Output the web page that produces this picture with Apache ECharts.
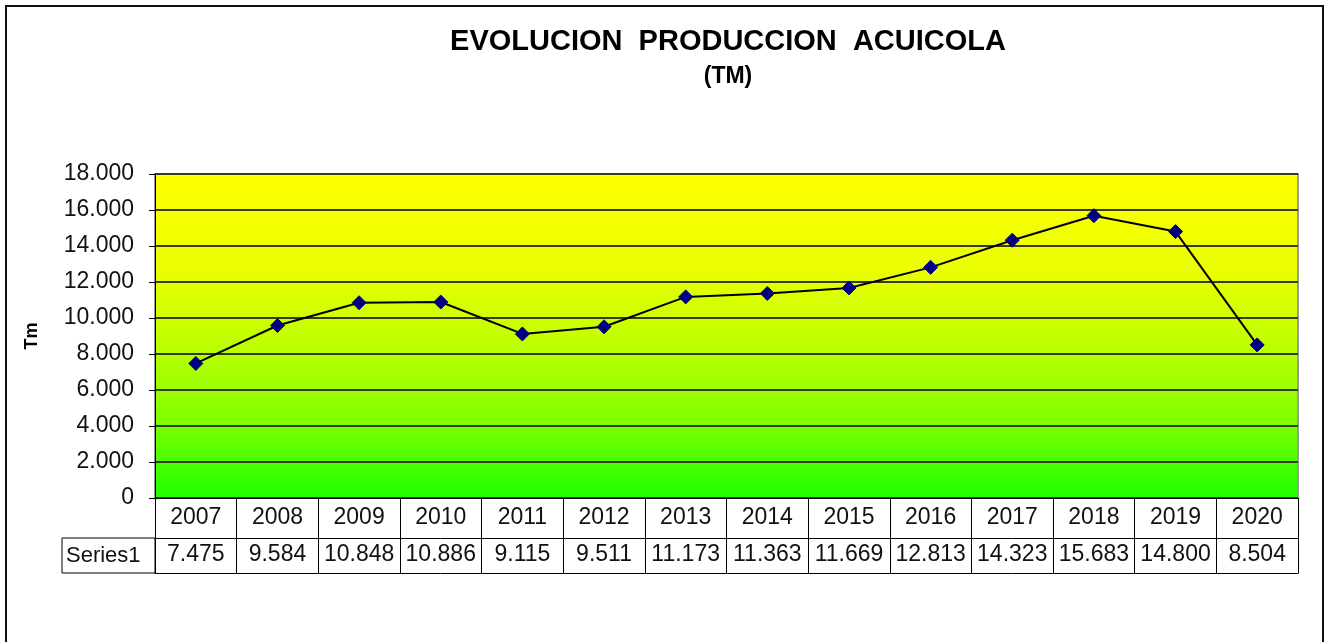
<!DOCTYPE html>
<html>
<head>
<meta charset="utf-8">
<script src="https://cdn.jsdelivr.net/npm/echarts@6/dist/echarts.min.js"></script>
<style>
  html, body { margin: 0; padding: 0; background: #fff; }
  #chart { width: 1330px; height: 642px; }
</style>
</head>
<body>
<div id="chart"></div>
<script>
// datos del gráfico
const years = ['2007', '2008', '2009', '2010', '2011', '2012', '2013', '2014', '2015', '2016', '2017', '2018', '2019', '2020']
const produccion = [7475, 9584, 10848, 10886, 9115, 9511, 11173, 11363, 11669, 12813, 14323, 15683, 14800, 8504]
const seriesName = 'Series1'

// separador de miles con punto
function fmt (v) {
  return String(v).replace(/\B(?=(\d{3})+(?!\d))/g, '.')
}

const font = 'Liberation Sans, Arial, sans-serif'
const chart = echarts.init(document.getElementById('chart'))

const option = {
  animation: false,
  backgroundColor: '#fff',
  title: [
    {
      text: 'EVOLUCION  PRODUCCION  ACUICOLA',
      left: 723,
      top: 22,
      textAlign: 'center',
      textStyle: { fontFamily: font, fontWeight: 'bold', fontSize: 29, color: '#000' }
    },
    {
      text: '(TM)',
      left: 723,
      top: 60,
      textAlign: 'center',
      textStyle: { fontFamily: font, fontWeight: 'bold', fontSize: 23, color: '#000' }
    }
  ],
  grid: {
    left: 155,
    right: 32,
    top: 174,
    bottom: 144,
    show: true,
    borderColor: '#999',
    borderWidth: 2,
    backgroundColor: new echarts.graphic.LinearGradient(0, 0, 0, 1, [
      { offset: 0, color: '#ffff00' },
      { offset: 0.3, color: '#eaff00' },
      { offset: 0.5, color: '#c4ff00' },
      { offset: 0.75, color: '#84ff00' },
      { offset: 1, color: '#1eff00' }
    ])
  },
  xAxis: [
    {
      // fila de años
      type: 'category',
      data: years,
      boundaryGap: true,
      axisLine: { lineStyle: { color: '#000', width: 1 } },
      axisTick: { show: true, interval: 0, alignWithLabel: false, length: 40, lineStyle: { color: '#000' } },
      axisLabel: { interval: 0, margin: 10, fontFamily: font, fontSize: 23, color: '#111', lineHeight: 20 },
      splitLine: { show: false }
    },
    {
      // fila de valores (tabla de datos)
      type: 'category',
      position: 'bottom',
      offset: 40,
      data: produccion.map(fmt),
      boundaryGap: true,
      axisLine: { lineStyle: { color: '#000', width: 1 } },
      axisTick: { show: true, interval: 0, alignWithLabel: false, length: 35, lineStyle: { color: '#000' } },
      axisLabel: { interval: 0, margin: 7, fontFamily: font, fontSize: 23, color: '#111', lineHeight: 20 },
      splitLine: { show: false }
    },
    {
      // borde inferior de la tabla
      type: 'category',
      position: 'bottom',
      offset: 75,
      data: years,
      axisLine: { lineStyle: { color: '#000', width: 1 } },
      axisTick: { show: false },
      axisLabel: { show: false },
      splitLine: { show: false }
    }
  ],
  yAxis: {
    type: 'value',
    min: 0,
    max: 18000,
    interval: 2000,
    name: 'Tm',
    nameLocation: 'middle',
    nameGap: 114,
    nameRotate: 90,
    nameTextStyle: { fontFamily: font, fontWeight: 'bold', fontSize: 18, color: '#000' },
    axisLine: { show: true, lineStyle: { color: '#000', width: 1 } },
    axisTick: { show: true, length: 6, lineStyle: { color: '#000' } },
    axisLabel: { margin: 21, fontFamily: font, fontSize: 23, color: '#111', formatter: fmt },
    splitLine: { show: true, lineStyle: { color: '#3a3a1a', width: 2 } }
  },
  graphic: [
    {
      // marco exterior
      type: 'rect',
      shape: { x: 6, y: 6, width: 1317, height: 700 },
      style: { fill: 'none', stroke: '#111', lineWidth: 2 },
      silent: true
    },
    {
      // celda de la leyenda de la tabla
      type: 'rect',
      shape: { x: 62, y: 538, width: 93, height: 35 },
      style: { fill: 'none', stroke: '#000', lineWidth: 1 },
      silent: true
    },
    {
      type: 'text',
      x: 66,
      y: 556,
      style: {
        text: seriesName,
        fontFamily: font,
        fontSize: 22,
        fill: '#111',
        verticalAlign: 'middle'
      },
      silent: true
    }
  ],
  series: [
    {
      name: seriesName,
      type: 'line',
      xAxisIndex: 0,
      data: produccion,
      symbol: 'diamond',
      symbolSize: 14,
      lineStyle: { color: '#000', width: 2 },
      itemStyle: { color: '#000080', borderColor: '#000080' }
    }
  ]
}
chart.setOption(option)
</script>
</body>
</html>
